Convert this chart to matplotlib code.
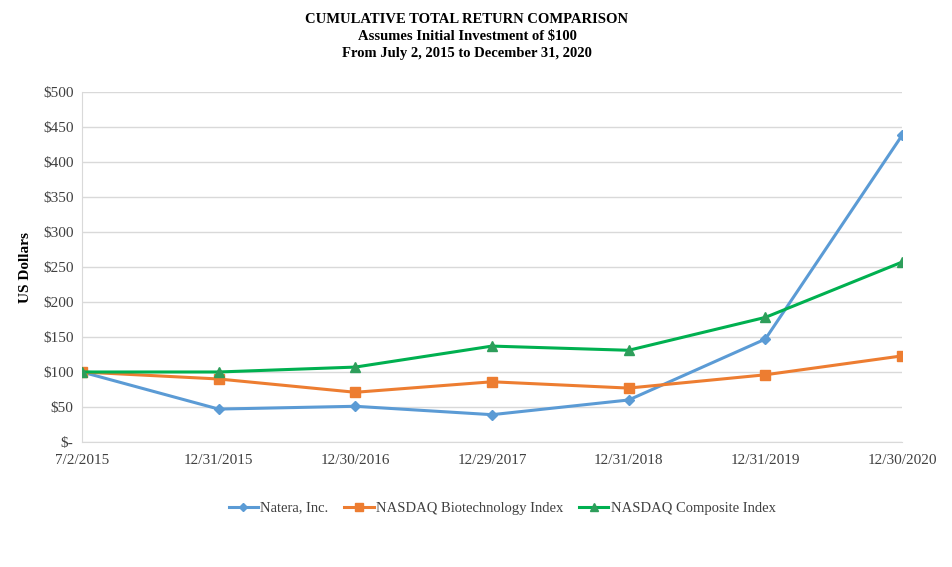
import matplotlib
matplotlib.use("Agg")
import matplotlib.pyplot as plt
from matplotlib.ticker import FuncFormatter

dates = ["7/2/2015", "12/31/2015", "12/30/2016", "12/29/2017", "12/31/2018", "12/31/2019", "12/30/2020"]
natera = [100, 47, 51, 39, 60, 147, 438]
biotech = [100, 90, 71, 86, 77, 96, 123]
composite = [100, 100, 107, 137, 131, 178, 257]
yticks = [0, 50, 100, 150, 200, 250, 300, 350, 400, 450, 500]

plt.rcParams['font.family'] = ['Liberation Serif', 'DejaVu Serif']

fig = plt.figure(figsize=(9.53, 5.67), dpi=100)
ax = fig.add_axes([0.086, 0.2205, 0.8605, 0.6172])

x = list(range(len(dates)))
ax.plot(x, natera, color='#5B9BD5', lw=2.2, marker='D', ms=5, label='Natera, Inc.', zorder=3)
ax.plot(x, biotech, color='#ED7D31', lw=2.2, marker='s', ms=7, label='NASDAQ Biotechnology Index', zorder=3)
ax.plot(x, composite, color='#00B050', lw=2.2, marker='^', ms=7, mfc='#2E9E5B', mec='#2E9E5B', label='NASDAQ Composite Index', zorder=3)

ax.set_xlim(0, 6)
ax.set_ylim(0, 500)
ax.set_yticks(yticks)
ax.yaxis.set_major_formatter(FuncFormatter(lambda v, p: '$-' if v == 0 else f'${int(v)}'))
ax.set_xticks(x)
ax.set_xticklabels(dates)
ax.tick_params(axis='both', length=0, labelsize=11, colors='#404040', pad=6)
ax.tick_params(axis='x', pad=9)
ax.grid(axis='y', color='#D9D9D9', lw=1)
ax.set_axisbelow(True)
for s in ['top', 'right']:
    ax.spines[s].set_visible(False)
ax.spines['left'].set_color('#D9D9D9')
ax.spines['bottom'].set_color('#D9D9D9')
ax.set_ylabel('US Dollars', fontsize=11, fontweight='bold', labelpad=8)

fig.text(0.49, 0.966, 'CUMULATIVE TOTAL RETURN COMPARISON', ha='center', va='center', fontsize=10.5, fontweight='bold')
fig.text(0.49, 0.936, 'Assumes Initial Investment of $100', ha='center', va='center', fontsize=10.5, fontweight='bold')
fig.text(0.49, 0.905, 'From July 2, 2015 to December 31, 2020', ha='center', va='center', fontsize=10.5, fontweight='bold')

fig.legend(loc='center', bbox_to_anchor=(0.527, 0.104), ncol=3, frameon=False, fontsize=10.5,
           handlelength=2.0, handletextpad=0.15, columnspacing=1.1, labelcolor='#404040',
           markerscale=0.85)

fig.savefig('out.png', dpi=100)
